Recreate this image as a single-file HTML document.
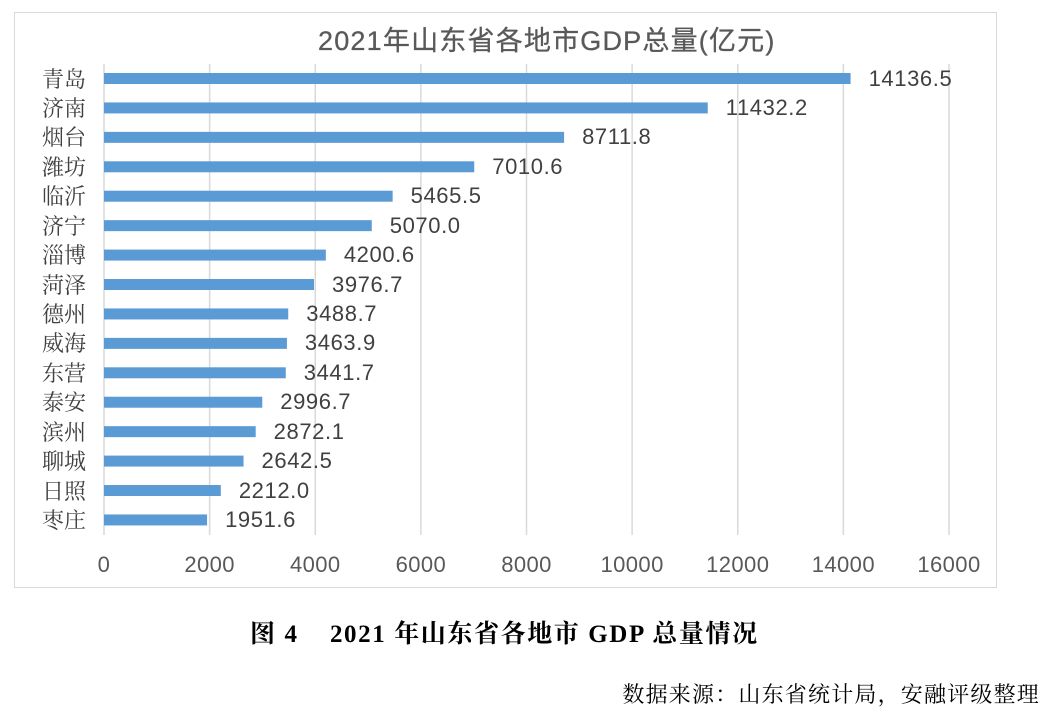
<!DOCTYPE html>
<html><head><meta charset="utf-8"><style>
body{margin:0;background:#fff;width:1052px;height:714px;overflow:hidden;position:relative;font-family:"Liberation Sans","Noto Sans CJK SC",sans-serif}
.frame{position:absolute;left:14px;top:12px;width:983px;height:576px;border:1.5px solid #d9d9d9;box-sizing:border-box}
.t{position:absolute;white-space:nowrap}
</style></head><body>
<div class="frame"></div>
<svg width="1052" height="714" style="position:absolute;left:0;top:0">
<g id="g"></g>
</svg>
<div class="t" style="left:318px;top:19px;font-size:27px;letter-spacing:1.2px;color:#595959;-webkit-text-stroke:0.3px #595959">2021年山东省各地市GDP总量(亿元)</div>
<div id="c"></div>
<div class="t" style="left:250px;top:614px;font-size:25px;font-weight:bold;color:#000;font-family:'Liberation Serif','Noto Serif CJK SC',serif;letter-spacing:1.6px">图 4&nbsp;&nbsp;&nbsp;&nbsp;2021 年山东省各地市 GDP 总量情况</div>
<div class="t" style="right:12px;top:678px;font-size:22px;letter-spacing:1.2px;color:#000;font-family:'Noto Serif CJK SC',serif">数据来源：山东省统计局，安融评级整理</div>
<script>
var d=[["青岛",14136.5],["济南",11432.2],["烟台",8711.8],["潍坊",7010.6],["临沂",5465.5],["济宁",5070.0],["淄博",4200.6],["菏泽",3976.7],["德州",3488.7],["威海",3463.9],["东营",3441.7],["泰安",2996.7],["滨州",2872.1],["聊城",2642.5],["日照",2212.0],["枣庄",1951.6]];
var x0=104,s=845/16000,g='',h='';
for(var i=0;i<=8;i++){var x=x0+i*2000*s;g+='<line x1="'+x+'" y1="64" x2="'+x+'" y2="535" stroke="#d9d9d9" stroke-width="1.5"/>';
h+='<div class="t" style="left:'+(x-50)+'px;width:100px;text-align:center;top:552px;font-size:22px;letter-spacing:0.4px;color:#595959">'+(i*2000)+'</div>';}
d.forEach(function(r,i){var cy=78.5+i*29.43,w=r[1]*s;
g+='<rect x="'+x0+'" y="'+(cy-5.5)+'" width="'+w+'" height="11" fill="#5b9bd5"/>';
h+='<div class="t" style="left:42px;top:'+(cy-14)+'px;font-size:22px;color:#404040;font-family:\'Noto Serif CJK SC\',serif;line-height:28px">'+r[0]+'</div>';
h+='<div class="t" style="left:'+(x0+w+18)+'px;top:'+(cy-13)+'px;font-size:22px;letter-spacing:0.6px;color:#404040;line-height:26px">'+r[1].toFixed(1)+'</div>';});
document.getElementById('g').innerHTML=g;document.getElementById('c').innerHTML=h;
</script>
</body></html>
